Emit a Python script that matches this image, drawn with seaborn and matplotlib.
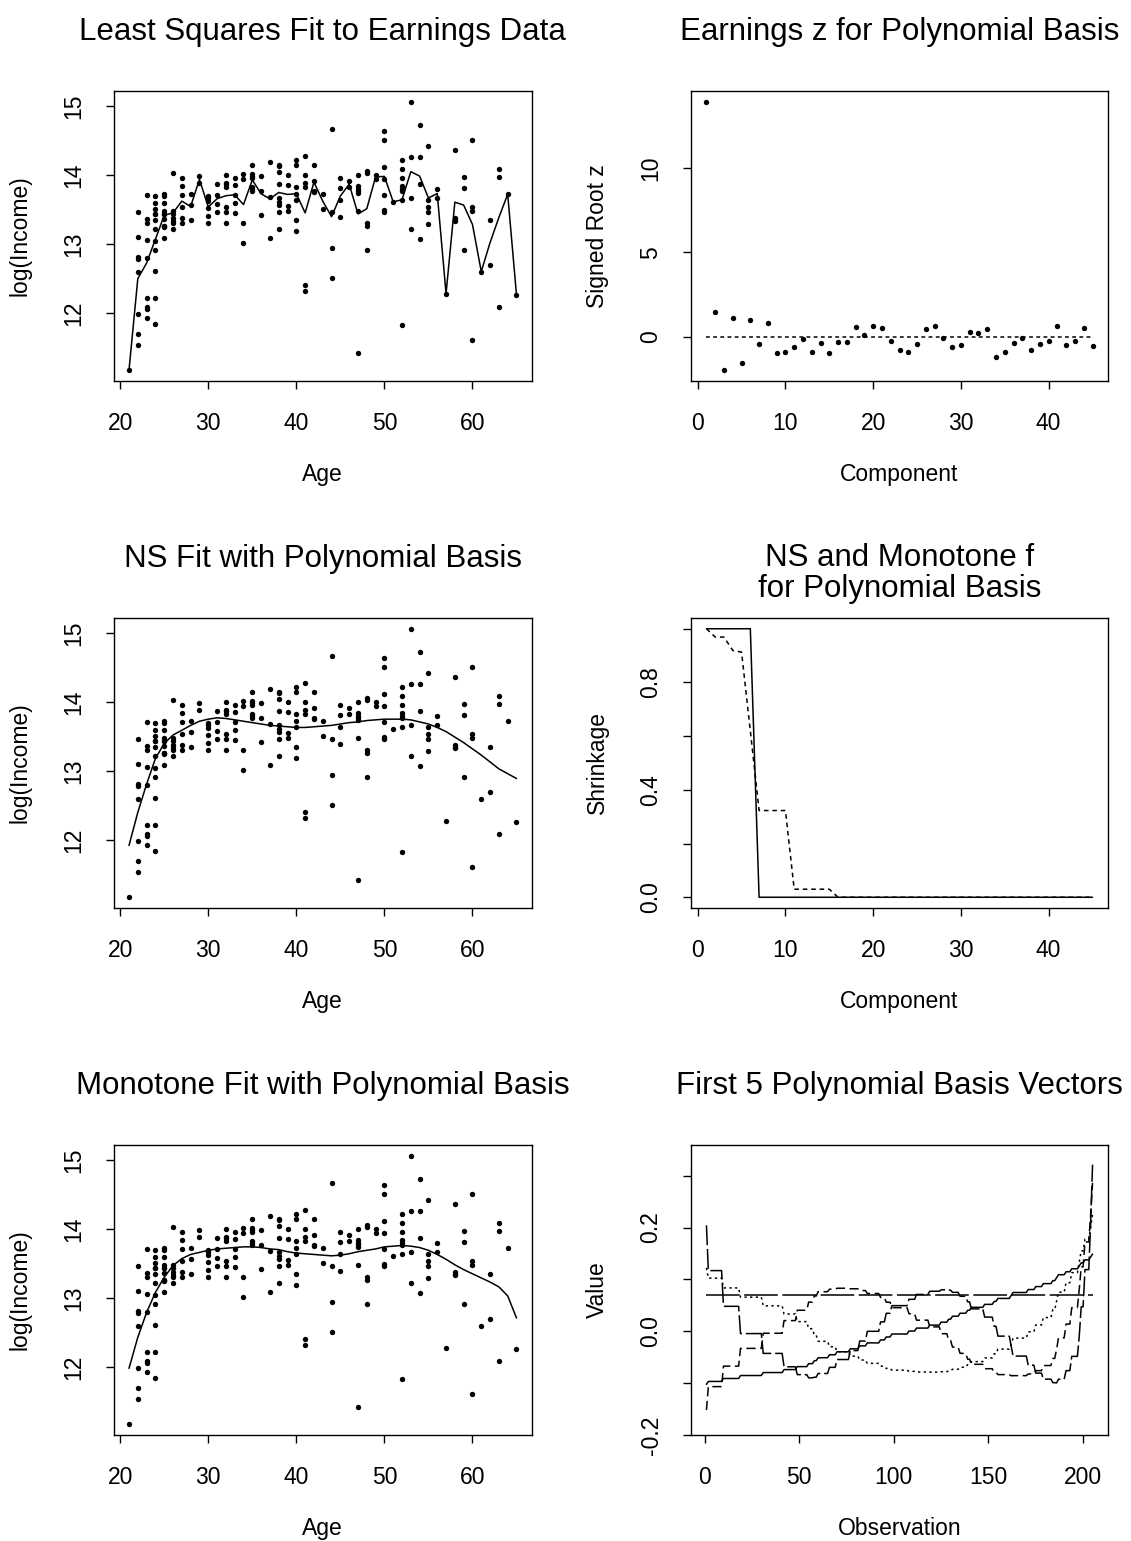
import numpy as np
import pandas as pd
import matplotlib
matplotlib.use("Agg")
import matplotlib.pyplot as plt
import seaborn as sns

# ---------------- data ----------------
ages = list(range(21, 66))
counts = [1, 8, 9, 12, 11, 7, 6, 3, 2, 6, 4, 7, 5, 4, 7, 3, 3, 9, 4, 7,
          6, 4, 2, 4, 4, 2, 7, 5, 2, 7, 1, 8, 4, 4, 5, 2, 1, 4, 3, 4,
          1, 2, 3, 1, 1]
log_income = [
    11.17,
    13.46, 13.10, 12.81, 12.78, 12.60, 11.99, 11.70, 11.54,
    13.71, 13.36, 13.30, 13.06, 12.80, 12.21, 12.08, 12.06, 11.93,
    13.69, 13.60, 13.50, 13.43, 13.43, 13.35, 13.21, 13.04, 12.91, 12.61, 12.21, 11.84,
    13.72, 13.69, 13.60, 13.48, 13.43, 13.43, 13.36, 13.26, 13.26, 13.24, 13.09,
    14.03, 13.48, 13.43, 13.38, 13.33, 13.30, 13.21,
    13.95, 13.84, 13.71, 13.53, 13.38, 13.31,
    13.73, 13.56, 13.34,
    13.98, 13.89,
    13.69, 13.66, 13.62, 13.52, 13.41, 13.31,
    13.87, 13.71, 13.58, 13.46,
    14.00, 13.89, 13.87, 13.82, 13.54, 13.46, 13.31,
    13.96, 13.85, 13.71, 13.59, 13.45,
    14.01, 13.94, 13.31, 13.02,
    14.15, 14.01, 13.98, 13.95, 13.83, 13.80, 13.77,
    13.99, 13.77, 13.42,
    14.19, 13.68, 13.09,
    14.15, 14.13, 14.04, 13.87, 13.67, 13.61, 13.57, 13.46, 13.21,
    14.00, 13.85, 13.55, 13.47,
    14.22, 14.15, 13.82, 13.73, 13.63, 13.35, 13.19,
    14.27, 14.00, 13.89, 13.82, 12.40, 12.32,
    14.15, 13.91, 13.77, 13.75,
    13.73, 13.51,
    14.67, 13.46, 12.94, 12.51,
    13.95, 13.81, 13.63, 13.39,
    13.91, 13.82,
    14.00, 13.84, 13.80, 13.77, 13.74, 13.47, 11.42,
    14.05, 14.03, 13.30, 13.26, 12.91,
    14.00, 13.94,
    14.64, 14.50, 14.11, 13.94, 13.71, 13.49, 13.46,
    13.61,
    14.22, 14.08, 13.95, 13.84, 13.80, 13.77, 13.64, 11.82,
    15.06, 14.26, 13.66, 13.21,
    14.73, 14.26, 13.87, 13.07,
    14.42, 13.63, 13.53, 13.46, 13.29,
    13.80, 13.66,
    12.28,
    14.36, 13.38, 13.35, 13.33,
    13.97, 13.81, 12.91,
    14.51, 13.53, 13.48, 11.61,
    12.60,
    13.34, 12.70,
    14.09, 13.97, 12.09,
    13.72,
    12.26,
]
ns_fit = [11.92, 12.40, 12.81, 13.18, 13.40, 13.52, 13.59, 13.66, 13.72, 13.75,
          13.77, 13.76, 13.74, 13.72, 13.70, 13.68, 13.66, 13.65, 13.64, 13.63,
          13.63, 13.64, 13.65, 13.66, 13.68, 13.70, 13.71, 13.73, 13.74, 13.75,
          13.75, 13.75, 13.74, 13.71, 13.68, 13.63, 13.57, 13.49, 13.41, 13.32,
          13.23, 13.13, 13.03, 12.96, 12.89]
mono_fit = [11.98, 12.43, 12.79, 13.08, 13.30, 13.47, 13.57, 13.63, 13.66, 13.69,
            13.71, 13.72, 13.73, 13.74, 13.74, 13.73, 13.71, 13.70, 13.67, 13.65,
            13.64, 13.63, 13.62, 13.61, 13.62, 13.64, 13.67, 13.69, 13.71, 13.74,
            13.75, 13.76, 13.75, 13.73, 13.69, 13.63, 13.56, 13.48, 13.41, 13.35,
            13.29, 13.23, 13.16, 13.03, 12.71]
component = list(range(1, 46))
signed_root_z = [13.92, 1.45, -1.98, 1.11, -1.54, 0.97, -0.42, 0.79, -0.93, -0.89,
                 -0.63, -0.10, -0.87, -0.38, -0.95, -0.32, -0.32, 0.57, 0.08, 0.67,
                 0.50, -0.26, -0.79, -0.89, -0.44, 0.44, 0.67, -0.06, -0.59, -0.48,
                 0.30, 0.24, 0.46, -1.19, -0.91, -0.38, -0.08, -0.77, -0.42, -0.24,
                 0.65, -0.51, -0.26, 0.50, -0.53]
ns_shrinkage = [1, 1, 1, 1, 1, 1] + [0] * 39
mono_shrinkage = [1.0, 0.969, 0.969, 0.919, 0.913, 0.62, 0.323, 0.323, 0.323, 0.323,
                  0.030, 0.030, 0.030, 0.030, 0.030] + [0.0] * 30

# ---------------- derived tables ----------------
age = np.repeat(ages, counts)
df = pd.DataFrame({"age": age, "y": log_income})
ls_fit = df.groupby("age")["y"].mean().reset_index()
fits = pd.DataFrame({"age": ages, "ns": ns_fit, "mono": mono_fit})
comp_df = pd.DataFrame({"k": component, "z": signed_root_z,
                        "ns": ns_shrinkage, "mono": mono_shrinkage})

# orthonormal polynomial basis (degree 0..4) of the sorted ages
a = np.sort(age).astype(float)
ac = (a - a.mean()) / a.std()
V = np.vander(ac, 5, increasing=True)
Q, R = np.linalg.qr(V)
Q = Q * np.sign(np.diag(R))
obs = np.arange(1, len(a) + 1)

# ---------------- style ----------------
sns.set_theme(style="white")
plt.rcParams["font.family"] = ["Liberation Sans", "DejaVu Sans"]
plt.rcParams["axes.unicode_minus"] = False

W, H = 1131, 1541
fig = plt.figure(figsize=(W / 100, H / 100), dpi=100)

col_l = [113.5, 532]
col_r = [691, 1108]
rows = [91, 618, 1145]
ah = 290


def make_ax(col, top):
    return fig.add_axes([col[0] / W, 1 - (top + ah) / H, (col[1] - col[0]) / W, ah / H])


LW = 1.1
TS = 22.5
LS = 16.5


def style(ax, title, xlabel, ylabel, pad=37, linespacing=1.2):
    for s in ax.spines.values():
        s.set_linewidth(1.0)
        s.set_color("black")
        s.set_visible(True)
    ax.tick_params(axis="both", direction="out", length=5.5, width=1.0,
                   labelsize=LS, colors="black", bottom=True, left=True)
    ax.tick_params(axis="x", pad=17)
    ax.tick_params(axis="y", pad=15, labelrotation=90)
    for lab in ax.get_yticklabels():
        lab.set_va("center")
    ax.set_title(title, fontsize=TS, pad=pad, linespacing=linespacing, color="black")
    ax.set_xlabel(xlabel, fontsize=LS, labelpad=20, color="black")
    ax.set_ylabel(ylabel, fontsize=LS, labelpad=22, color="black")
    ax.grid(False)
    ax.set_facecolor("white")


def scatter_panel(ax):
    sns.scatterplot(data=df, x="age", y="y", ax=ax, color="black", s=15,
                    linewidth=0, legend=False)
    ax.margins(0.04)
    ax.set_xticks([20, 30, 40, 50, 60])
    ax.set_yticks([12, 13, 14, 15])


# Panel 1: least squares fit
ax1 = make_ax(col_l, rows[0])
scatter_panel(ax1)
sns.lineplot(data=ls_fit, x="age", y="y", ax=ax1, color="black", lw=LW,
             estimator=None, sort=False)
style(ax1, "Least Squares Fit to Earnings Data", "Age", "log(Income)")

# Panel 2: signed root z
ax2 = make_ax(col_r, rows[0])
sns.scatterplot(data=comp_df, x="k", y="z", ax=ax2, color="black", s=15,
                linewidth=0, legend=False)
zero_df = pd.DataFrame({"k": [component[0], component[-1]], "z": [0, 0]})
sns.lineplot(data=zero_df, x="k", y="z", ax=ax2, color="black", lw=LW,
             linestyle=(0, (2.5, 2.2)), estimator=None)
ax2.margins(0.04)
ax2.set_xticks([0, 10, 20, 30, 40])
ax2.set_yticks([0, 5, 10])
style(ax2, "Earnings z for Polynomial Basis", "Component", "Signed Root z")

# Panel 3: NS fit
ax3 = make_ax(col_l, rows[1])
scatter_panel(ax3)
sns.lineplot(data=fits, x="age", y="ns", ax=ax3, color="black", lw=LW,
             estimator=None, sort=False)
style(ax3, "NS Fit with Polynomial Basis", "Age", "log(Income)")

# Panel 4: shrinkage
ax4 = make_ax(col_r, rows[1])
sns.lineplot(data=comp_df, x="k", y="ns", ax=ax4, color="black", lw=LW,
             estimator=None, sort=False)
sns.lineplot(data=comp_df, x="k", y="mono", ax=ax4, color="black", lw=LW,
             linestyle=(0, (3, 2.5)), estimator=None, sort=False)
ax4.margins(0.04)
ax4.set_xticks([0, 10, 20, 30, 40])
ax4.set_yticks([0.0, 0.2, 0.4, 0.6, 0.8, 1.0])
ax4.set_yticklabels(["0.0", "", "0.4", "", "0.8", ""])
style(ax4, "NS and Monotone f\nfor Polynomial Basis", "Component", "Shrinkage",
      pad=15, linespacing=1.05)

# Panel 5: monotone fit
ax5 = make_ax(col_l, rows[2])
scatter_panel(ax5)
sns.lineplot(data=fits, x="age", y="mono", ax=ax5, color="black", lw=LW,
             estimator=None, sort=False)
style(ax5, "Monotone Fit with Polynomial Basis", "Age", "log(Income)")

# Panel 6: basis vectors
ax6 = make_ax(col_r, rows[2])
styles = [(0, (22, 3)), "-", (0, (1.5, 2.2)), (0, (6, 3)), (0, (13, 2.5))]
for j in range(5):
    bdf = pd.DataFrame({"obs": obs, "v": Q[:, j]})
    sns.lineplot(data=bdf, x="obs", y="v", ax=ax6, color="black", lw=LW,
                 linestyle=styles[j], estimator=None, sort=False)
ax6.margins(x=0.04, y=0.08)
ax6.set_xticks([0, 50, 100, 150, 200])
ax6.set_yticks([-0.2, -0.1, 0.0, 0.1, 0.2, 0.3])
ax6.set_yticklabels(["-0.2", "", "0.0", "", "0.2", ""])
style(ax6, "First 5 Polynomial Basis Vectors", "Observation", "Value")

fig.savefig("out.png", dpi=100, facecolor="white")
